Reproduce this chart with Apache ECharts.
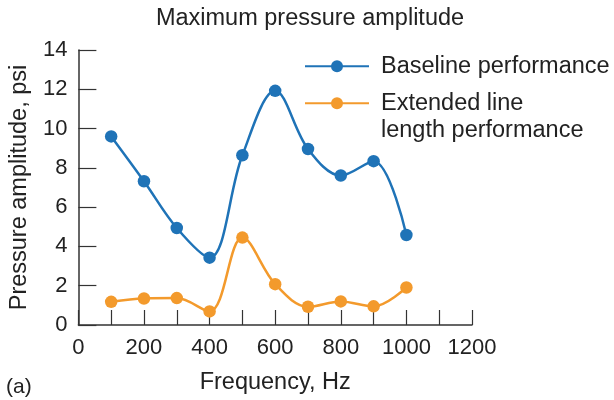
<!DOCTYPE html>
<html><head><meta charset="utf-8">
<script src="https://cdn.jsdelivr.net/npm/echarts@6/dist/echarts.min.js"></script>
<style>html,body{margin:0;padding:0;background:#fff}#c{width:614px;height:400px}</style>
</head><body><div id="c"></div>
<script>
var frequencies = [100, 200, 300, 400, 500, 600, 700, 800, 900, 1000];
var baseline = [9.6, 7.32, 4.94, 3.43, 8.64, 11.92, 8.96, 7.61, 8.34, 4.58];
var extended = [1.18, 1.35, 1.37, 0.69, 4.45, 2.08, 0.93, 1.2, 0.95, 1.91];
var seriesNames = ['Baseline performance', 'Extended line\nlength performance'];
var FONT = 'Liberation Sans, Arial, sans-serif';
function pairs(v){ return frequencies.map(function(f,i){ return [f, v[i]]; }); }
var chart = echarts.init(document.getElementById('c'));
var axisCol = '#333';
var txt = '#222';
var legendText = {fontFamily: FONT, fontSize: 23.5, color: txt, lineHeight: 27.5, padding: [0, 0, 0, 7]};
var legendCommon = {orient: 'vertical', left: 304, padding: 0, itemWidth: 64, itemHeight: 15, textStyle: legendText};
chart.setOption({
  animation: false,
  textStyle: {fontFamily: FONT},
  title: {text: 'Maximum pressure amplitude', left: 305, top: 2, textAlign: 'center',
    textStyle: {fontFamily: FONT, fontWeight: 'normal', fontSize: 23.5, color: txt}},
  grid: {left: 77, right: 142, top: 50, bottom: 74, containLabel: false},
  legend: [
    Object.assign({}, legendCommon, {top: 52.5, data: [seriesNames[0]]}),
    Object.assign({}, legendCommon, {top: 62, data: [seriesNames[1]],
      formatter: function(name){ return ' \n' + name; }})
  ],
  xAxis: {type: 'value', min: 0, max: 1200, interval: 100,
    name: 'Frequency, Hz', nameLocation: 'middle', nameGap: 46,
    nameTextStyle: {fontFamily: FONT, fontSize: 23.5, color: txt},
    axisLine: {lineStyle: {color: axisCol, width: 1.5}},
    axisTick: {inside: true, length: 15, lineStyle: {color: axisCol, width: 1.2}},
    axisLabel: {fontFamily: FONT, fontSize: 22, color: txt, margin: 12,
      formatter: function(v){ return v % 200 === 0 ? String(v) : ''; }},
    splitLine: {show: false}},
  yAxis: {type: 'value', min: 0, max: 14, interval: 2,
    name: 'Pressure amplitude, psi', nameLocation: 'middle', nameGap: 43, nameRotate: 90,
    nameTextStyle: {fontFamily: FONT, fontSize: 23.5, color: txt},
    axisLine: {show: true, lineStyle: {color: axisCol, width: 1.5}},
    axisTick: {show: true, inside: true, length: 18, lineStyle: {color: axisCol, width: 1.2}},
    axisLabel: {fontFamily: FONT, fontSize: 22, color: txt, margin: 11},
    splitLine: {show: false}},
  graphic: [{type: 'text', left: 6, top: 377, style: {text: '(a)', fontFamily: FONT, fontSize: 21, fill: txt}}],
  series: [
    {name: seriesNames[0], type: 'line', smooth: 0.35, data: pairs(baseline),
      symbol: 'circle', symbolSize: 12.5, itemStyle: {color: '#1f73b7'},
      lineStyle: {color: '#1f73b7', width: 2.5}},
    {name: seriesNames[1], type: 'line', smooth: 0.35, data: pairs(extended),
      symbol: 'circle', symbolSize: 12.5, itemStyle: {color: '#f39a2c'},
      lineStyle: {color: '#f39a2c', width: 2.5}}
  ]
});
</script></body></html>
